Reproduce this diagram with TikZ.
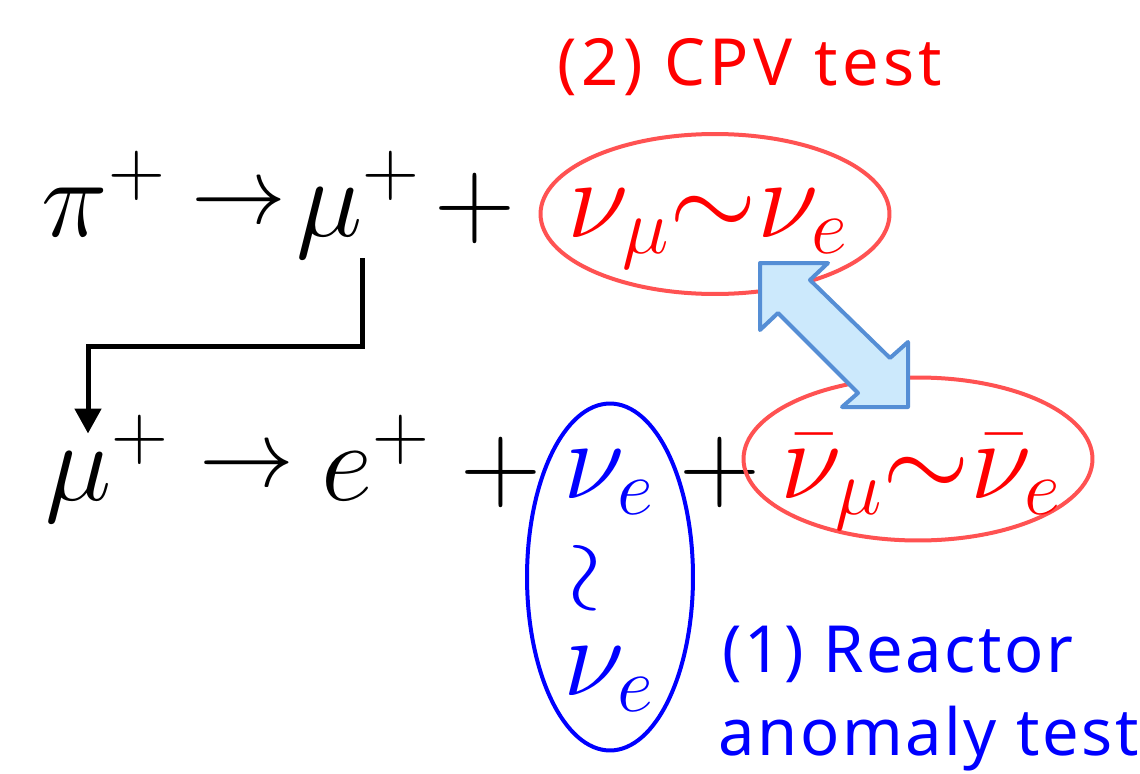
\RequirePackage{fix-cm}
\documentclass[tikz,border=0pt]{standalone}
\usepackage{fontspec}
\newfontfamily\lblfont[LetterSpace=4]{Noto Sans}
\newfontfamily\lblwidefont[LetterSpace=7]{Noto Sans}
\usetikzlibrary{arrows.meta,shapes.geometric}
\definecolor{ellred}{RGB}{255,82,82}
\definecolor{txtred}{RGB}{255,0,0}
\definecolor{txtblue}{RGB}{0,0,255}
\definecolor{arrfill}{RGB}{204,233,252}
\definecolor{arrline}{RGB}{85,142,213}
\tikzset{
  eq/.style={inner sep=0pt, anchor=base, font=\fontsize{64}{70}\selectfont},
  yields/.style={inner sep=0pt, anchor=center, font=\fontsize{54}{60}\selectfont},
  ring/.style={ellipse, draw, line width=0.08cm, inner sep=0pt},
  lbl/.style={inner sep=0pt, anchor=base west, font=\lblfont\fontsize{37}{44}\selectfont},
  elbow/.style={line width=0.1cm, -{Triangle[width=0.52cm,length=0.5cm]}},
  dblarrow/.style={fill=arrfill, draw=arrline, line width=0.08cm, line join=round}
}
\begin{document}
\begin{tikzpicture}[x=0.02cm,y=-0.02cm]
\useasboundingbox[fill=white] (0,0) rectangle (1140,774);

% label (2)
\node[lbl, txtred, font=\lblwidefont\fontsize{37}{44}\selectfont] (lbl2) at (557,85) {(2) CPV test};

% top row
\node[eq] (pi) at (104,236) {$\pi^+$};
\node[yields] (arr1) at (239,206) {$\rightarrow$};
\node[eq] (mu1) at (358,236) {$\mu^+$};
\node[eq] (plus1) at (475,236) {$+$};
\node[ring, draw=ellred, minimum width=6.98cm, minimum height=3.2cm] (ellTop) at (715,214) {};
\node[eq, txtred] (nuTop) at (708,237) {$\nu_\mu{\sim}\nu_e$};

% bottom row
\node[eq] (mu2) at (107,500) {$\mu^+$};
\node[yields] (arr2) at (247,469) {$\rightarrow$};
\node[eq] (epos) at (376,500) {$e^+$};
\node[eq] (plus2) at (501,500) {$+$};
\node[ring, draw=txtblue, minimum width=3.32cm, minimum height=6.94cm] (ellBlue) at (610,577) {};
\node[eq, txtblue] (nue1) at (609,498) {$\nu_e$};
\node[eq, txtblue, anchor=center, rotate=90, font=\fontsize{56}{60}\selectfont] (wr) at (591,578) {$\sim$};
\node[eq, txtblue] (nue2) at (609,695) {$\nu_e$};
\node[eq] (plus3) at (720,500) {$+$};
\node[ring, draw=ellred, minimum width=6.98cm, minimum height=3.26cm] (ellBot) at (918,459) {};
\node[eq, txtred] (nuBot) at (921,498) {$\bar\nu_\mu{\sim}\bar\nu_e$};

% label (1)
\node[lbl, txtblue] (lbl1a) at (722,672) {(1) Reactor};
\node[lbl, txtblue] (lbl1b) at (718,755) {anomaly test};

% elbow arrow from mu+ (top) to mu+ (bottom)
\draw[elbow, shorten >=-0.38cm] (mu1.south -| 362,0) -- (362,346) -| (mu2.north -| 88,0);

% block double arrow between the two red ellipses
\draw[dblarrow] (760,263) -- (828,263) -- (810,280) -- (890,358) -- (908,342)
  -- (908,407) -- (842,407) -- (858,393) -- (778,313) -- (760,330) -- cycle;
\end{tikzpicture}
\end{document}
